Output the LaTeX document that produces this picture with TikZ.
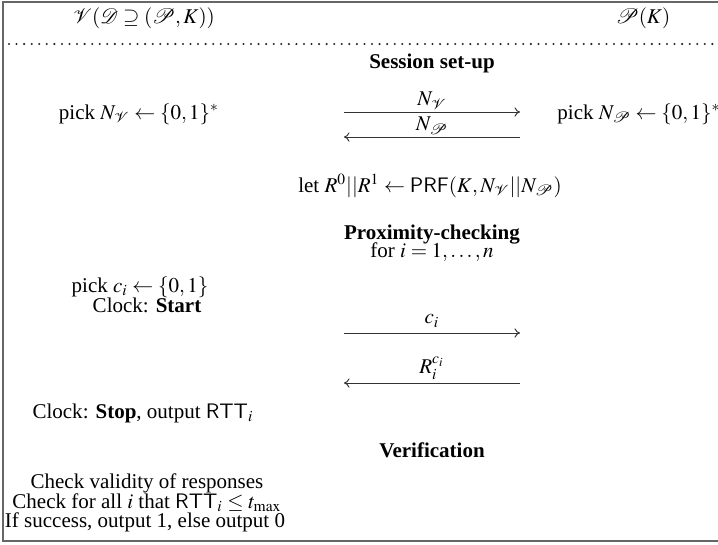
\documentclass[tikz,border=0pt]{standalone}
\usepackage{mathptmx}
\usepackage{mathrsfs}
\usepackage{fontspec}
\setmainfont{Liberation Serif}
\setsansfont{Liberation Sans}
\usetikzlibrary{arrows.meta}
\begin{document}
\begin{tikzpicture}[x=0.476pt,y=-0.476pt,
  txt/.style={inner sep=0pt, anchor=base},
  msg/.style={-{To[length=2.6pt,width=4.4pt]}, line width=0.45pt, draw=black!80},
  lab/.style={above, inner sep=1.2pt},
  frameline/.style={draw=black!60, line width=1.4pt},
  sepline/.style={draw=black!85, line width=1.1pt, line cap=round, dash pattern=on 0pt off 3.6pt}]
\useasboundingbox (0,0) rectangle (718,544);
\clip (0,0) rectangle (718,544);
% outer frame
\draw[frameline] (3,2) rectangle (740,541);
% party names and separator
\node[txt] (ver) at (144,23) {$\mathscr{V}(\mathscr{D}\supseteq(\mathscr{P},K))$};
\node[txt] (prv) at (643,23) {$\mathscr{P}(K)$};
\draw[sepline] (9,44) -- (718,44);
% session set-up
\node[txt] (hdA) at (432,68) {\textbf{Session set-up}};
\node[txt] (pickV) at (139,119) {pick $N_{\mathscr V}\leftarrow\{0,1\}^*$};
\node[txt, anchor=base west] (pickP) at (557,119) {pick $N_{\mathscr P}\leftarrow\{0,1\}^*$};
\coordinate (a1l) at (344,112); \coordinate (a1r) at (520,112);
\coordinate (a2l) at (344,137); \coordinate (a2r) at (520,137);
\draw[msg] (a1l) -- node[lab] (lNV) {$N_{\mathscr V}$} (a1r);
\draw[msg] (a2r) -- node[lab] (lNP) {$N_{\mathscr P}$} (a2l);
\node[txt] (letR) at (430,192) {let $R^0||R^1\leftarrow\mathsf{PRF}(K,N_{\mathscr V}||N_{\mathscr P})$};
% proximity checking
\node[txt] (hdB) at (432,239) {\textbf{Proximity-checking}};
\node[txt] (loop) at (432,257) {for $i=1,\ldots,n$};
\node[txt] (pickc) at (140,292) {pick $c_i\leftarrow\{0,1\}$};
\node[txt] (start) at (147,312) {Clock: \textbf{Start}};
\coordinate (a3l) at (344,333); \coordinate (a3r) at (520,333);
\coordinate (a4l) at (344,383); \coordinate (a4r) at (520,383);
\draw[msg] (a3l) -- node[lab, inner sep=2.5pt] (lc) {$c_i$} (a3r);
\draw[msg] (a4r) -- node[lab] (lR) {$R_i^{c_i}$} (a4l);
\node[txt] (stop) at (143,418) {Clock: \textbf{Stop}, output $\mathsf{RTT}_i$};
% verification
\node[txt] (hdC) at (432,457) {\textbf{Verification}};
\node[txt] (chk1) at (147,488) {Check validity of responses};
\node[txt] (chk2) at (147,508) {Check for all $i$ that $\mathsf{RTT}_i\le t_{\max}$};
\node[txt] (out) at (145,527) {If success, output 1, else output 0};
\end{tikzpicture}
\end{document}
